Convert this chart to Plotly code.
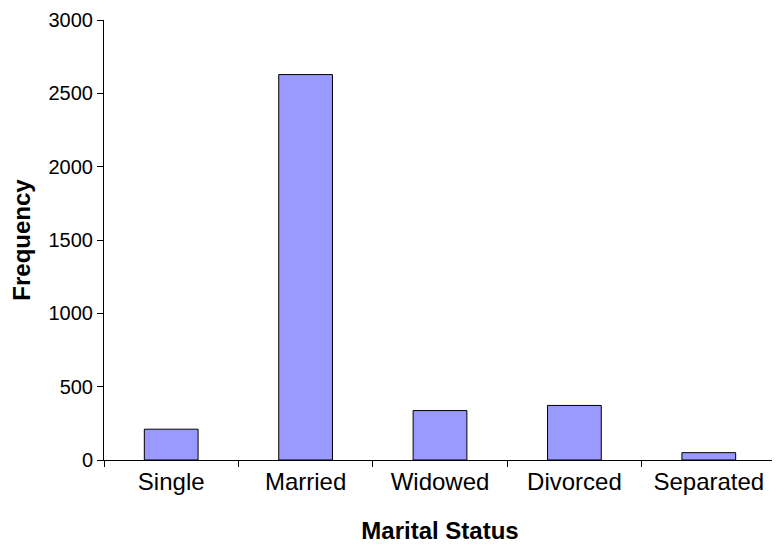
import plotly.graph_objects as go

categories = ["Single", "Married", "Widowed", "Divorced", "Separated"]
frequency = [210, 2628, 337, 372, 50]

fig = go.Figure(go.Bar(
    x=categories, y=frequency, width=0.4,
    marker=dict(color="#9999ff", line=dict(color="black", width=1)),
))
fig.update_layout(
    width=780, height=556, plot_bgcolor="white", paper_bgcolor="white",
    margin=dict(l=96, r=12, t=12, b=104, autoexpand=False),
    font=dict(family="Liberation Sans, Arial", color="black"),
    showlegend=False,
)
fig.update_xaxes(
    title=dict(text="<b>Marital Status</b>", font=dict(size=24), standoff=28),
    tickfont=dict(size=24), showline=True, linecolor="black",
    ticks="outside", tickson="boundaries", ticklen=6, tickcolor="black",
    showgrid=False,
)
fig.update_yaxes(
    title=dict(text="<b>Frequency</b>", font=dict(size=24), standoff=28),
    range=[0, 3000], dtick=500, tickfont=dict(size=20),
    showline=True, linecolor="black", ticks="outside", ticklen=6,
    tickcolor="black", showgrid=False, zeroline=False,
)
fig.write_html("out.html")
